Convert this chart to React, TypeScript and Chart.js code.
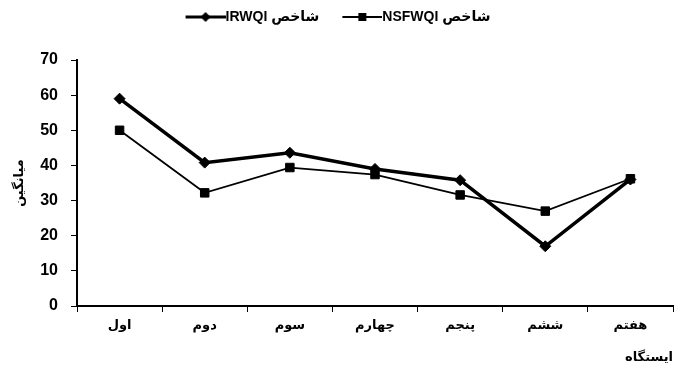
import React, { useEffect, useRef } from "react";
import { Chart, registerables } from "chart.js";

Chart.register(...registerables);

const stations = ["اول", "دوم", "سوم", "چهارم", "پنجم", "ششم", "هفتم"];
const irwqi = [59, 40.8, 43.6, 39, 35.8, 17, 36];
const nsfwqi = [50, 32.2, 39.4, 37.4, 31.6, 27, 36.2];
const seriesNames = ["شاخص IRWQI", "شاخص NSFWQI"];
const yTitle = "میانگین";
const xTitle = "ایستگاه";

const FONT = "'Liberation Sans', 'DejaVu Sans', sans-serif";

// legend sample: 40px line with marker, drawn at the right end of a 50px canvas
function legendMarker(kind: "diamond" | "square", lw: number): HTMLCanvasElement {
  const c = document.createElement("canvas");
  c.width = 50;
  c.height = 12;
  const ctx = c.getContext("2d")!;
  ctx.strokeStyle = "#000";
  ctx.fillStyle = "#000";
  ctx.lineWidth = lw;
  ctx.beginPath();
  ctx.moveTo(10, 6);
  ctx.lineTo(50, 6);
  ctx.stroke();
  if (kind === "diamond") {
    ctx.beginPath();
    ctx.moveTo(30, 1);
    ctx.lineTo(35, 6);
    ctx.lineTo(30, 11);
    ctx.lineTo(25, 6);
    ctx.closePath();
    ctx.fill();
  } else {
    ctx.fillRect(26, 2, 8, 8);
  }
  return c;
}

export default function App() {
  const ref = useRef<HTMLCanvasElement | null>(null);
  useEffect(() => {
    if (!ref.current) return;
    const markers = [legendMarker("diamond", 3), legendMarker("square", 2)];
    const legendGap = {
      id: "legendGap",
      beforeInit(chart: any) {
        const orig = chart.legend.fit;
        chart.legend.fit = function () {
          orig.bind(chart.legend)();
          this.height += 26;
        };
      },
    };
    const chart = new Chart(ref.current, {
      type: "line",
      data: {
        labels: stations,
        datasets: [
          {
            label: seriesNames[0],
            data: irwqi,
            borderColor: "#000",
            backgroundColor: "#000",
            borderWidth: 3.5,
            pointStyle: "rectRot",
            pointRadius: 5.5,
            pointBorderWidth: 1,
            tension: 0,
          },
          {
            label: seriesNames[1],
            data: nsfwqi,
            borderColor: "#000",
            backgroundColor: "#000",
            borderWidth: 1.8,
            pointStyle: "rect",
            pointRadius: 6,
            pointBorderWidth: 1,
            tension: 0,
          },
        ],
      },
      options: {
        animation: false,
        responsive: true,
        maintainAspectRatio: false,
        layout: { padding: { top: -10, right: 7, bottom: 0, left: 0 } },
        plugins: {
          tooltip: { enabled: false },
          legend: {
            position: "top",
            align: "center",
            textDirection: "rtl",
            labels: {
              color: "#000",
              font: { family: FONT, size: 14, weight: "bold" },
              usePointStyle: true,
              pointStyleWidth: 36,
              padding: 20,
              generateLabels: (chart: any) => {
                const items = Chart.defaults.plugins.legend.labels.generateLabels(chart);
                return items.map((it: any, i: number) => ({ ...it, pointStyle: markers[i] }));
              },
            },
          },
        },
        scales: {
          x: {
            type: "category",
            offset: true,
            afterFit: (s: any) => {
              s.height = 66;
            },
            border: { display: true, color: "#000", width: 2 },
            grid: { display: true, drawOnChartArea: false, drawTicks: true, tickLength: 6, color: "#000", offset: true },
            ticks: { color: "#000", font: { family: FONT, size: 13, weight: "bold" }, padding: 6, maxRotation: 0 },
            title: {
              display: true,
              text: xTitle,
              align: "end",
              color: "#000",
              font: { family: FONT, size: 13, weight: "bold" },
              padding: { top: 0, bottom: 7 },
            },
          },
          y: {
            min: 0,
            max: 70,
            afterFit: (s: any) => {
              s.width = 77;
            },
            border: { display: true, color: "#000", width: 2 },
            grid: { display: true, drawOnChartArea: false, drawTicks: true, tickLength: 6, color: "#000" },
            ticks: { stepSize: 10, color: "#000", font: { family: FONT, size: 16, weight: "bold" }, padding: 13 },
            title: {
              display: true,
              text: yTitle,
              color: "#000",
              font: { family: FONT, size: 13, weight: "bold" },
              padding: { top: 12, bottom: 0 },
            },
          },
        },
      },
      plugins: [legendGap],
    } as any);
    return () => chart.destroy();
  }, []);
  return (
    <div style={{ position: "fixed", left: 0, top: 0, width: 680, height: 372, background: "#fff" }}>
      <canvas ref={ref} />
    </div>
  );
}
